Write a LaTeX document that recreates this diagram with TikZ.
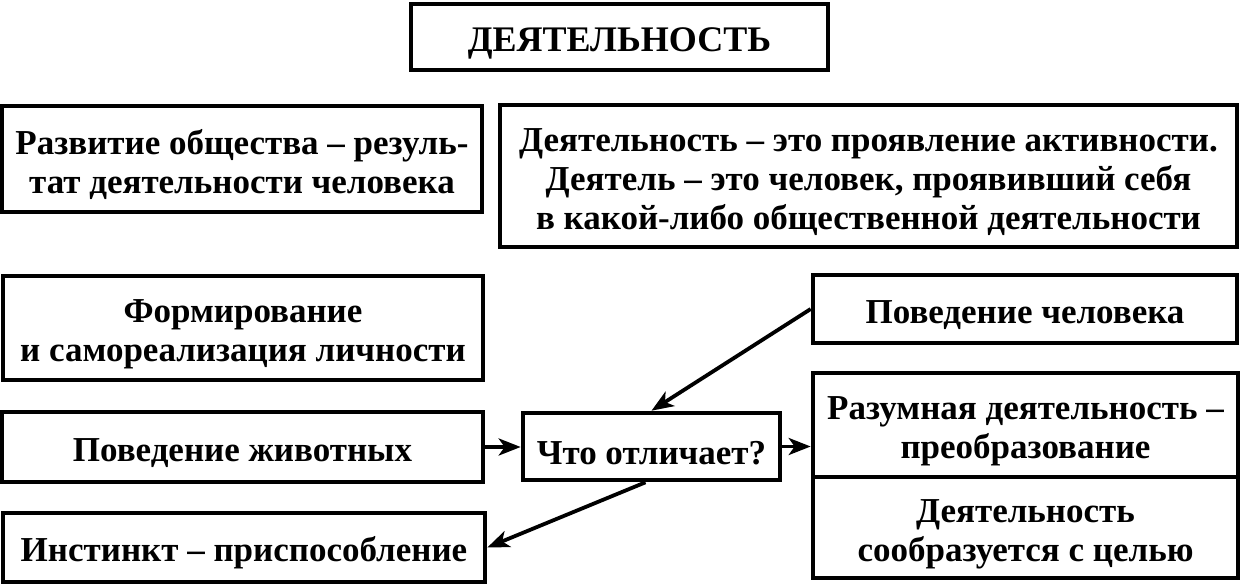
\documentclass[tikz,border=0pt]{standalone}
\usepackage{fontspec}
\setmainfont{Liberation Serif}
\usetikzlibrary{arrows.meta}
\newcommand{\dnstrut}{\rule{0pt}{36pt}}
\begin{document}
\begin{tikzpicture}[x=1pt,y=-1pt,
  box/.style={draw, line width=4.6pt, inner sep=0pt, align=center,
    font=\fontsize{35}{39}\selectfont\bfseries},
  conn/.style={line width=3.8pt, -{Stealth[length=22pt,width=17pt,inset=6pt]}}]
\useasboundingbox (0,0) rectangle (1243,586);
\node[box, minimum width=417pt, minimum height=66pt, font=\fontsize{36}{40}\selectfont\bfseries] (title) at (619.5,37) {\dnstrut ДЕЯТЕЛЬНОСТЬ};
\node[box, minimum width=480pt, minimum height=106pt] (b1) at (242,159) {\dnstrut Развитие общества – резуль-\\тат деятельности человека};
\node[box, minimum width=737pt, minimum height=142pt] (b2) at (868.5,176) {\dnstrut Деятельность – это проявление активности.\\Деятель – это человек, проявивший себя\\в какой-либо общественной деятельности};
\node[box, minimum width=480pt, minimum height=104pt] (b3) at (243,328) {\dnstrut Формирование\\и самореализация личности};
\node[box, minimum width=424pt, minimum height=68pt] (b4) at (1025,309) {\dnstrut Поведение человека};
\node[box, minimum width=481pt, minimum height=70pt] (b5) at (242.5,447) {\dnstrut Поведение животных};
\node[box, minimum width=257pt, minimum height=67pt] (b6) at (651.5,446.5) {\dnstrut Что отличает?};
\node[box, minimum width=425pt, minimum height=104pt] (b7a) at (1025.5,425) {\dnstrut Разумная деятельность –\\преобразование};
\node[box, minimum width=425pt, minimum height=101pt] (b7b) at (1025.5,527.5) {\dnstrut Деятельность\\сообразуется с целью};
\node[box, minimum width=482pt, minimum height=69pt] (b8) at (244,547.5) {\dnstrut Инстинкт – приспособление};
\draw[conn] (b5.east) -- (b5.east -| b6.west);
\draw[conn] (b6.east) -- (b6.east -| b7a.west);
\draw[conn] (b4.west) -- (b6.north);
\draw[conn] ([xshift=-6pt]b6.south) -- (b8.east);
\end{tikzpicture}
\end{document}
